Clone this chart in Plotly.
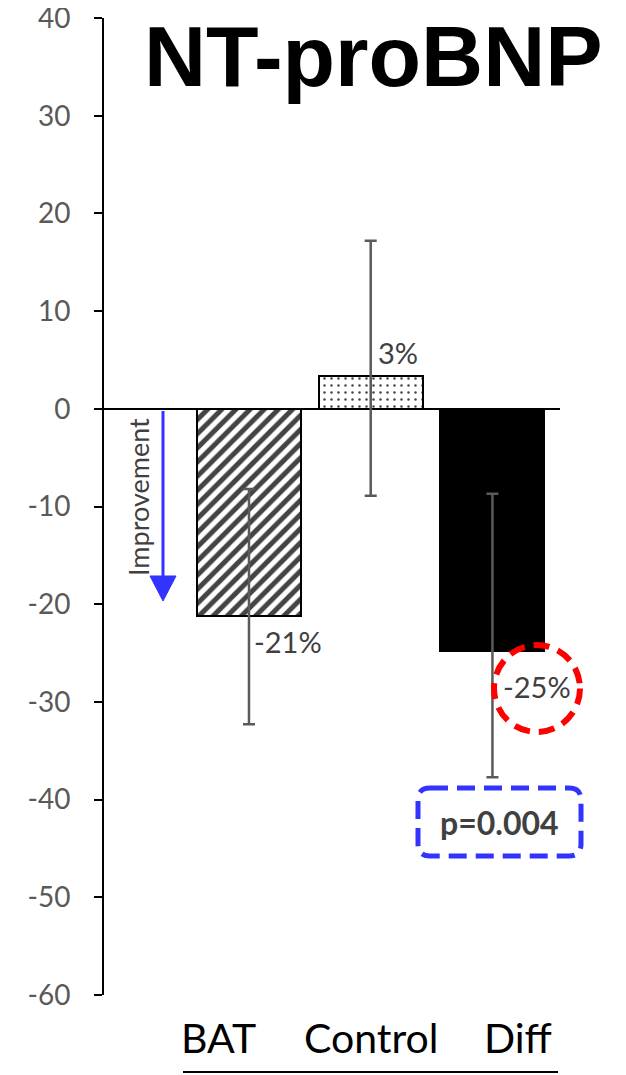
import plotly.graph_objects as go

# ---- data ----
categories = ["BAT", "Control", "Diff"]
values = [-21.2, 3.4, -24.8]
err_plus = [13.0, 13.8, 16.1]
err_minus = [11.1, 12.3, 12.9]
value_labels = ["-21%", "3%", "-25%"]
y_ticks = [40, 30, 20, 10, 0, -10, -20, -30, -40, -50, -60]
y_tick_text = ["40", "30", "20", "10", "0", "-10", "-20", "-30", "-40", "-50", "-60"]
title_text = "NT-proBNP"
p_text = "p=0.004"
arrow_text = "Improvement"

W, H = 626, 1075
OFF = 8  # page body offset
L, R, T, B = 104 - OFF, 66 + OFF, 18 - OFF, 80 + OFF
PW, PH = W - L - R, H - T - B

def px(x):
    return (x - OFF - L) / PW

def py(y):
    return (H - B - (y - OFF)) / PH

x_pos = list(range(len(categories)))

fig = go.Figure()
fig.add_trace(go.Bar(
    x=x_pos, y=values, width=0.855,
    marker=dict(
        color=["white", "white", "black"],
        line=dict(color="black", width=2),
        pattern=dict(shape=["/", ".", ""], fgcolor="black", bgcolor="white", fgopacity=1,
                     size=[10, 7, 8], solidity=[0.5, 0.1, 0.3]),
    ),
    error_y=dict(type="data", symmetric=False, array=err_plus, arrayminus=err_minus,
                 color="#5a5a5a", thickness=2.5, width=6),
    showlegend=False,
))

annotations = []
lab_pos = [(0.32, -23.8), (1.226, 5.8), (2.366, -28.4)]
for (lx, ly), t in zip(lab_pos, value_labels):
    annotations.append(dict(x=lx, y=ly, xref="x", yref="y", text=t, showarrow=False,
                            font=dict(family="Lato", size=29, color="#404040")))
annotations.append(dict(x=px(373), y=py(56), xref="paper", yref="paper", text="<b>%s</b>" % title_text,
                        showarrow=False, xanchor="center", yanchor="middle",
                        font=dict(family="Liberation Sans", size=86, color="black")))
for cx, t in zip([218, 371, 518], categories):
    annotations.append(dict(x=px(cx), y=py(1037), xref="paper", yref="paper", text=t,
                            showarrow=False, xanchor="center", yanchor="middle",
                            font=dict(family="Lato", size=41, color="black")))
annotations.append(dict(x=px(499), y=py(822), xref="paper", yref="paper", text="<b>%s</b>" % p_text,
                        showarrow=False, xanchor="center", yanchor="middle",
                        font=dict(family="Lato", size=32, color="#404040")))
annotations.append(dict(x=px(138), y=py(497), xref="paper", yref="paper", text=arrow_text,
                        showarrow=False, textangle=-90, xanchor="center", yanchor="middle",
                        font=dict(family="Lato", size=27, color="#404040")))

shapes = []
shapes.append(dict(type="line", xref="paper", yref="paper", x0=px(163), x1=px(163),
                   y0=py(411), y1=py(580), line=dict(color="#3333ff", width=3)))
tri = "M %f %f L %f %f L %f %f Z" % (px(150), py(576), px(176), py(576), px(163), py(601))
shapes.append(dict(type="path", xref="paper", yref="paper", path=tri,
                   fillcolor="#3333ff", line=dict(color="#3333ff", width=1)))
shapes.append(dict(type="circle", xref="paper", yref="paper", x0=px(494), x1=px(580),
                   y0=py(732), y1=py(645), line=dict(color="#ff0000", width=6, dash="16px,9px")))
x0, x1, y0, y1, r = 418, 581, 788, 856, 12
path = "M %f %f " % (px(x0 + r), py(y0))
path += "L %f %f " % (px(x1 - r), py(y0))
path += "Q %f %f %f %f " % (px(x1), py(y0), px(x1), py(y0 + r))
path += "L %f %f " % (px(x1), py(y1 - r))
path += "Q %f %f %f %f " % (px(x1), py(y1), px(x1 - r), py(y1))
path += "L %f %f " % (px(x0 + r), py(y1))
path += "Q %f %f %f %f " % (px(x0), py(y1), px(x0), py(y1 - r))
path += "L %f %f " % (px(x0), py(y0 + r))
path += "Q %f %f %f %f Z" % (px(x0), py(y0), px(x0 + r), py(y0))
shapes.append(dict(type="path", xref="paper", yref="paper", path=path,
                   line=dict(color="#3333ff", width=5, dash="18px,9px")))
shapes.append(dict(type="line", xref="paper", yref="paper", x0=px(183), x1=px(558),
                   y0=py(1072), y1=py(1072), line=dict(color="black", width=2)))

fig.update_layout(
    width=W, height=H,
    margin=dict(l=L, r=R, t=T, b=B, autoexpand=False),
    paper_bgcolor="white", plot_bgcolor="white",
    xaxis=dict(range=[-1.191, 2.555], showticklabels=False, showgrid=False,
               zeroline=False, showline=False, ticks="", automargin=False),
    yaxis=dict(range=[-60, 40], tickvals=y_ticks, ticktext=y_tick_text, showgrid=False,
               zeroline=True, zerolinecolor="black", zerolinewidth=1.5,
               showline=True, linecolor="black", linewidth=2,
               ticks="outside", ticklen=8, tickwidth=2, tickcolor="black",
               ticklabelstandoff=18, automargin=False, ticklabeloverflow="allow",
               tickfont=dict(family="Lato", size=28, color="#595959")),
    annotations=annotations,
    shapes=shapes,
    bargap=0,
)

fig.write_html("out.html")
